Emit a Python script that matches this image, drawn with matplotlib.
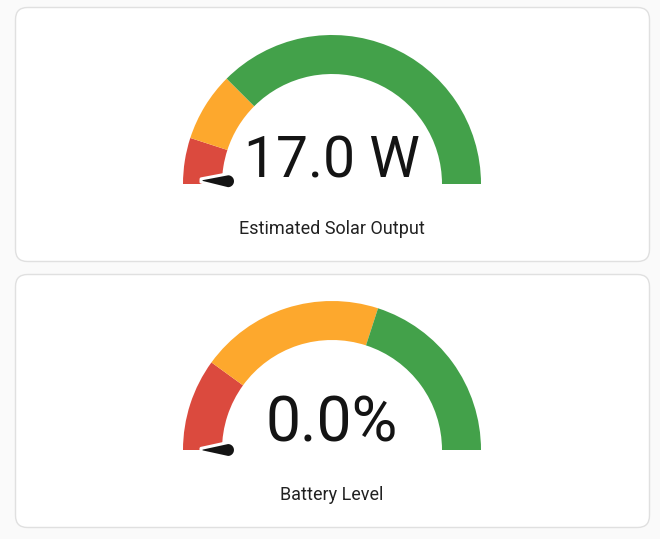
import numpy as np
import matplotlib
matplotlib.use("Agg")
import matplotlib.pyplot as plt
from matplotlib.patches import Wedge, FancyBboxPatch, Polygon

# gauge data
labels = ["Estimated Solar Output", "Battery Level"]
values = [17.0, 0.0]
value_text = ["17.0 W", "0.0%"]
mins = [0, 0]
maxs = [2000, 100]
# severity thresholds (start of orange, start of green)
orange_from = [200, 20]
green_from = [500, 60]

RED = "#db4a3e"
ORANGE = "#fda82d"
GREEN = "#43a14a"

fig = plt.figure(figsize=(6.6, 5.39), dpi=100)
fig.patch.set_facecolor("#fafafa")
ax = fig.add_axes([0, 0, 1, 1])
ax.set_xlim(0, 660)
ax.set_ylim(539, 0)
ax.axis("off")

cards = [(15.5, 7.5, 634, 254), (15.5, 274.5, 634, 253)]
centers = [(332, 184), (332, 450)]
r_out, r_in = 149, 110
value_base = [177, 442]
value_size = [41, 45]
label_base = [234, 500]


def ang(v, lo, hi):
    # 0 -> pointing left (180 deg), max -> pointing right (0 deg)
    return 180 - 180 * (v - lo) / (hi - lo)


for i in range(2):
    x, y, w, h = cards[i]
    ax.add_patch(FancyBboxPatch((x, y), w, h, boxstyle="round,pad=0,rounding_size=12",
                                facecolor="white", edgecolor="#e0e0e0", lw=1))
    cx, cy = centers[i]
    segs = [(mins[i], orange_from[i], RED),
            (orange_from[i], green_from[i], ORANGE),
            (green_from[i], maxs[i], GREEN)]
    for a, b, c in segs:
        # y axis is inverted, so angles flip sign
        t1, t2 = ang(a, mins[i], maxs[i]), ang(b, mins[i], maxs[i])
        ax.add_patch(Wedge((cx, cy), r_out, -t1, -t2, width=r_out - r_in,
                           facecolor=c, edgecolor="none"))

    # needle
    th = np.radians(ang(values[i], mins[i], maxs[i]))
    d = np.array([np.cos(th), -np.sin(th)])
    n = np.array([-d[1], d[0]])
    base = np.array([cx, cy]) + d * 104
    tip = np.array([cx, cy]) + d * 131
    pts = [tip + n * 1.6, tip - n * 1.6]
    for a in np.linspace(-np.pi / 2, np.pi / 2, 20):
        pts.append(base + 7.5 * (np.sin(a) * n - np.cos(a) * d))
    pts.append(tip + n * 1.6)
    ax.add_patch(Polygon(pts, closed=True, facecolor="#141414", edgecolor="white",
                         lw=2.2, joinstyle="round"))

    ax.text(cx, value_base[i], value_text[i], ha="center", va="baseline",
            fontsize=value_size[i], family="Roboto", color="#141414")
    ax.text(cx, label_base[i], labels[i], ha="center", va="baseline",
            fontsize=13, family="Roboto", color="#212121")

fig.savefig("out.png", dpi=100, facecolor=fig.get_facecolor())
